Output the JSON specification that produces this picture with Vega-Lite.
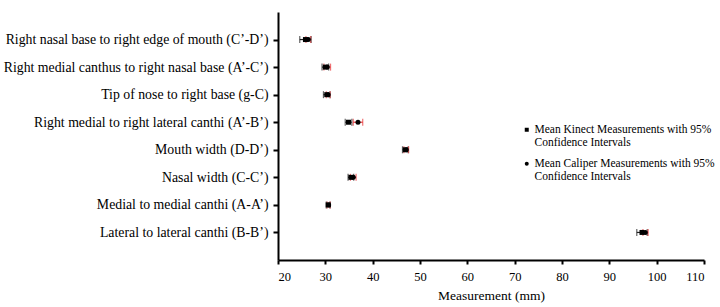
{
  "$schema": "https://vega.github.io/schema/vega-lite/v6.json",
  "autosize": "none",
  "width": 426,
  "height": 248,
  "padding": {"left": 278, "top": 12, "right": 16, "bottom": 47},
  "background": "white",
  "config": {
    "font": "'Liberation Serif', 'Times New Roman', Times, serif",
    "view": {"stroke": null},
    "axis": {"grid": false, "domainColor": "black", "domainWidth": 2, "tickColor": "black", "tickWidth": 2, "labelColor": "black", "titleColor": "black", "labelFont": "'Liberation Serif', 'Times New Roman', Times, serif", "titleFont": "'Liberation Serif', 'Times New Roman', Times, serif"},
    "legend": {"labelFont": "'Liberation Serif', 'Times New Roman', Times, serif"}
  },
  "data": {"values": [
    {"measure": "Right nasal base to right edge of mouth (C’-D’)", "series": "Kinect", "mean": 25.8, "lo": 24.6, "hi": 27.0},
    {"measure": "Right nasal base to right edge of mouth (C’-D’)", "series": "Caliper", "mean": 26.4, "lo": 25.9, "hi": 26.9},
    {"measure": "Right medial canthus to right nasal base (A’-C’)", "series": "Kinect", "mean": 30.0, "lo": 29.3, "hi": 30.7},
    {"measure": "Right medial canthus to right nasal base (A’-C’)", "series": "Caliper", "mean": 30.4, "lo": 29.7, "hi": 31.1},
    {"measure": "Tip of nose to right base (g-C)", "series": "Kinect", "mean": 30.3, "lo": 29.6, "hi": 31.0},
    {"measure": "Tip of nose to right base (g-C)", "series": "Caliper", "mean": 30.6, "lo": 30.2, "hi": 31.0},
    {"measure": "Right medial to right lateral canthi (A’-B’)", "series": "Kinect", "mean": 34.9, "lo": 34.2, "hi": 35.6},
    {"measure": "Right medial to right lateral canthi (A’-B’)", "series": "Caliper", "mean": 36.9, "lo": 35.9, "hi": 37.9},
    {"measure": "Mouth width (D-D’)", "series": "Kinect", "mean": 46.9, "lo": 46.3, "hi": 47.5},
    {"measure": "Mouth width (D-D’)", "series": "Caliper", "mean": 47.1, "lo": 46.6, "hi": 47.6},
    {"measure": "Nasal width (C-C’)", "series": "Kinect", "mean": 35.4, "lo": 34.8, "hi": 36.0},
    {"measure": "Nasal width (C-C’)", "series": "Caliper", "mean": 35.9, "lo": 35.3, "hi": 36.5},
    {"measure": "Medial to medial canthi (A-A’)", "series": "Kinect", "mean": 30.6, "lo": 30.2, "hi": 31.0},
    {"measure": "Medial to medial canthi (A-A’)", "series": "Caliper", "mean": 30.7, "lo": 30.4, "hi": 31.0},
    {"measure": "Lateral to lateral canthi (B-B’)", "series": "Kinect", "mean": 96.9, "lo": 95.8, "hi": 98.0},
    {"measure": "Lateral to lateral canthi (B-B’)", "series": "Caliper", "mean": 97.6, "lo": 97.1, "hi": 98.2}
  ]},
  "encoding": {
    "y": {
      "field": "measure", "type": "nominal",
      "sort": ["Right nasal base to right edge of mouth (C’-D’)", "Right medial canthus to right nasal base (A’-C’)", "Tip of nose to right base (g-C)", "Right medial to right lateral canthi (A’-B’)", "Mouth width (D-D’)", "Nasal width (C-C’)", "Medial to medial canthi (A-A’)", "Lateral to lateral canthi (B-B’)"],
      "scale": {"type": "point", "padding": 1},
      "axis": {"title": null, "labelFontSize": 13.8, "labelLimit": 300, "labelPadding": 5, "tickSize": 5}
    }
  },
  "resolve": {"legend": {"color": "independent", "shape": "independent"}},
  "layer": [
    {
      "mark": {"type": "errorbar", "ticks": {"size": 7}, "thickness": 1.2},
      "encoding": {
        "x": {"field": "lo", "type": "quantitative", "title": "Measurement (mm)"},
        "x2": {"field": "hi"},
        "color": {"field": "series", "type": "nominal", "scale": {"domain": ["Kinect", "Caliper"], "range": ["#222222", "#e8383a"]}, "legend": null}
      }
    },
    {
      "mark": {"type": "point", "filled": true, "opacity": 1, "color": "black", "size": 25},
      "encoding": {
        "x": {
          "field": "mean", "type": "quantitative", "title": "Measurement (mm)",
          "scale": {"domain": [20, 110], "nice": false, "zero": false},
          "axis": {"titleFontSize": 13.5, "titleFontWeight": "normal", "titlePadding": 6, "labelFontSize": 12.5, "labelPadding": 6, "tickSize": 4, "values": [20, 30, 40, 50, 60, 70, 80, 90, 100, 110]}
        },
        "shape": {
          "field": "series", "type": "nominal",
          "scale": {"domain": ["Kinect", "Caliper"], "range": ["square", "circle"]},
          "legend": {
            "title": null, "orient": "none", "legendX": 243, "legendY": 112,
            "labelExpr": "datum.label == 'Kinect' ? ['Mean Kinect Measurements with 95%', 'Confidence Intervals'] : ['Mean Caliper Measurements with 95%', 'Confidence Intervals']",
            "labelFontSize": 11.5, "labelColor": "black", "labelLimit": 300,
            "symbolFillColor": "black", "symbolStrokeColor": "black", "symbolSize": 16,
            "rowPadding": 8, "labelOffset": 2
          }
        }
      }
    }
  ]
}
